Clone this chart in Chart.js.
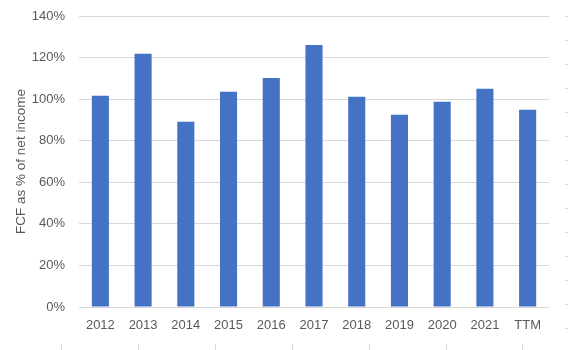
<!DOCTYPE html>
<html>
<head>
<meta charset="utf-8">
<script src="https://cdn.jsdelivr.net/npm/chart.js@4"></script>
<style>
  html, body { margin: 0; padding: 0; background: #fff; }
  #wrap { width: 568px; height: 350px; }
</style>
</head>
<body>
<div id="wrap"><canvas id="fcf-chart" width="568" height="350"></canvas></div>
<script>
// 数据
const years = ['2012', '2013', '2014', '2015', '2016', '2017', '2018', '2019', '2020', '2021', 'TTM'];
const fcfPct = [101.6, 121.8, 89.1, 103.5, 110.2, 126.1, 101.1, 92.5, 98.7, 105.0, 94.9];
const yTicks = [0, 20, 40, 60, 80, 100, 120, 140];

const GRID = '#d9d9d9';
const TEXT = '#595959';
const FONT = { family: '"Liberation Sans", Arial, sans-serif', size: 13 };

// 边缘的小刻度（原图裁切留下的）
const edgeTicks = {
    id: 'edgeTicks',
    afterDraw(chart) {
        const ctx = chart.ctx;
        ctx.save();
        ctx.strokeStyle = GRID;
        ctx.lineWidth = 1;
        [61, 137.5, 214.5, 291.5, 368.5, 445.5, 522].forEach(x => {
            ctx.beginPath();
            ctx.moveTo(Math.round(x) + 0.5, 344);
            ctx.lineTo(Math.round(x) + 0.5, 350);
            ctx.stroke();
        });
        for (let y = 16; y < 340; y += 24) {
            ctx.beginPath();
            ctx.moveTo(565, y + 0.5);
            ctx.lineTo(568, y + 0.5);
            ctx.stroke();
        }
        ctx.restore();
    },
};

new Chart(document.getElementById('fcf-chart'), {
    type: 'bar',
    data: {
        labels: years,
        datasets: [{
            label: 'FCF as % of net income',
            data: fcfPct,
            backgroundColor: '#4472C4',
            borderWidth: 0,
            barPercentage: 0.4,
            categoryPercentage: 1,
        }],
    },
    options: {
        responsive: false,
        animation: false,
        layout: { padding: { top: 16, right: 19, left: 0, bottom: 0 } },
        plugins: {
            legend: { display: false },
            tooltip: { enabled: false },
        },
        scales: {
            x: {
                grid: { display: false, drawTicks: false },
                border: { display: false },
                ticks: { color: TEXT, font: FONT, padding: 11, maxRotation: 0 },
                afterFit: s => { s.height = 43; s.paddingLeft = 0; s.paddingRight = 0; },
            },
            y: {
                min: 0,
                max: 140,
                afterBuildTicks: s => { s.ticks = yTicks.map(v => ({ value: v })); },
                grid: { color: GRID, lineWidth: 1, drawTicks: false },
                border: { display: false },
                ticks: { color: TEXT, font: FONT, padding: 14, callback: v => v + '%' },
                title: {
                    display: true,
                    text: 'FCF as % of net income',
                    color: TEXT,
                    font: { family: FONT.family, size: 13.5 },
                    padding: { top: 13, bottom: 0 },
                },
                afterFit: s => { s.width = 79; s.paddingTop = 0; s.paddingBottom = 0; },
            },
        },
    },
    plugins: [edgeTicks],
});
</script>
</body>
</html>
